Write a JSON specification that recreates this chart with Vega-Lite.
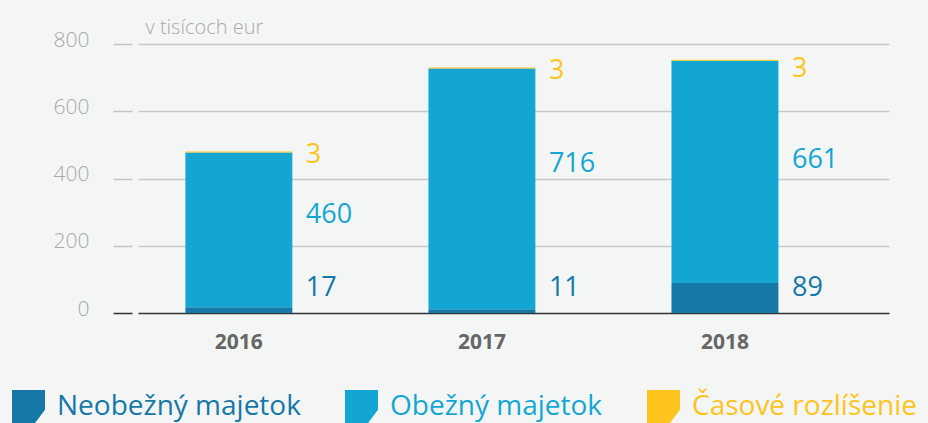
{
  "$schema": "https://vega.github.io/schema/vega-lite/v6.json",
  "width": 751,
  "height": 269,
  "autosize": "none",
  "padding": {"left": 138, "top": 44, "right": 39, "bottom": 110},
  "background": "#f4f6f5",
  "config": {"view": {"stroke": null}, "font": "Open Sans"},
  "data": {
    "values": [
      {"year": "2016", "category": "Neobežný majetok", "value": 17},
      {"year": "2016", "category": "Obežný majetok", "value": 460},
      {"year": "2016", "category": "Časové rozlíšenie", "value": 3},
      {"year": "2017", "category": "Neobežný majetok", "value": 11},
      {"year": "2017", "category": "Obežný majetok", "value": 716},
      {"year": "2017", "category": "Časové rozlíšenie", "value": 3},
      {"year": "2018", "category": "Neobežný majetok", "value": 89},
      {"year": "2018", "category": "Obežný majetok", "value": 661},
      {"year": "2018", "category": "Časové rozlíšenie", "value": 3}
    ]
  },
  "transform": [
    {"calculate": "indexof(['Neobežný majetok', 'Obežný majetok', 'Časové rozlíšenie'], datum.category)", "as": "rank"}
  ],
  "encoding": {
    "x": {
      "field": "year",
      "type": "ordinal",
      "scale": {"paddingInner": 0.56, "paddingOuter": 0.325, "align": 0.3},
      "axis": {
        "title": null,
        "domain": false,
        "ticks": false,
        "labelAngle": 0,
        "labelFontSize": 21,
        "labelFontWeight": "bold",
        "labelColor": "#666666",
        "labelPadding": 18
      }
    }
  },
  "layer": [
    {
      "mark": {"type": "bar"},
      "encoding": {
        "y": {
          "field": "value",
          "type": "quantitative",
          "stack": "zero",
          "scale": {"domain": [0, 800], "nice": false},
          "axis": {
            "title": "v tisícoch eur",
            "titleAngle": 0,
            "titleAlign": "left",
            "titleBaseline": "alphabetic",
            "titleX": 13,
            "titleY": -11,
            "titleFontSize": 20,
            "titleFontWeight": 300,
            "titleColor": "#a9a9a9",
            "values": [0, 200, 400, 600, 800],
            "domain": false,
            "offset": 6,
            "tickSize": 19,
            "tickWidth": 1.5,
            "tickColor": {"condition": {"test": "datum.value === 0", "value": "#333333"}, "value": "#c4c4c4"},
            "grid": true,
            "gridWidth": 1.5,
            "gridColor": {"condition": {"test": "datum.value === 0", "value": "#333333"}, "value": "#c8c8c8"},
            "labelFontSize": 21,
            "labelFontWeight": 300,
            "labelColor": "#a9a9a9",
            "labelPadding": 24,
            "labelOffset": -4
          }
        },
        "order": {"field": "rank", "type": "quantitative", "sort": "ascending"},
        "color": {
          "field": "category",
          "type": "nominal",
          "sort": ["Neobežný majetok", "Obežný majetok", "Časové rozlíšenie"],
          "scale": {
            "domain": ["Neobežný majetok", "Obežný majetok", "Časové rozlíšenie"],
            "range": ["#1578a7", "#14a6d2", "#fdc41e"]
          },
          "legend": {
            "title": null,
            "orient": "none",
            "direction": "horizontal",
            "legendX": -126,
            "legendY": 346,
            "symbolType": "M-1,-1H1V0.2L0.4,1H-1Z",
            "symbolSize": 1089,
            "symbolStrokeWidth": 0,
            "symbolOpacity": 1,
            "labelFontSize": 28,
            "labelOffset": 12,
            "labelLimit": 400,
            "columnPadding": 44,
            "encode": {"labels": {"update": {"fill": {"signal": "scale('color', datum.value)"}}}}
          }
        }
      }
    },
    {
      "transform": [
        {"joinaggregate": [{"op": "sum", "field": "value", "as": "total"}], "groupby": ["year"]},
        {"calculate": "datum.category === 'Neobežný majetok' ? 75 : datum.category === 'Obežný majetok' ? datum.total * 0.605 : min(datum.total, 735) - 10", "as": "ly"}
      ],
      "mark": {"type": "text", "align": "left", "baseline": "middle", "dx": 67, "fontSize": 27},
      "encoding": {
        "y": {"field": "ly", "type": "quantitative", "stack": null},
        "text": {"field": "value", "type": "quantitative"},
        "color": {"field": "category", "type": "nominal", "legend": null}
      }
    }
  ]
}
